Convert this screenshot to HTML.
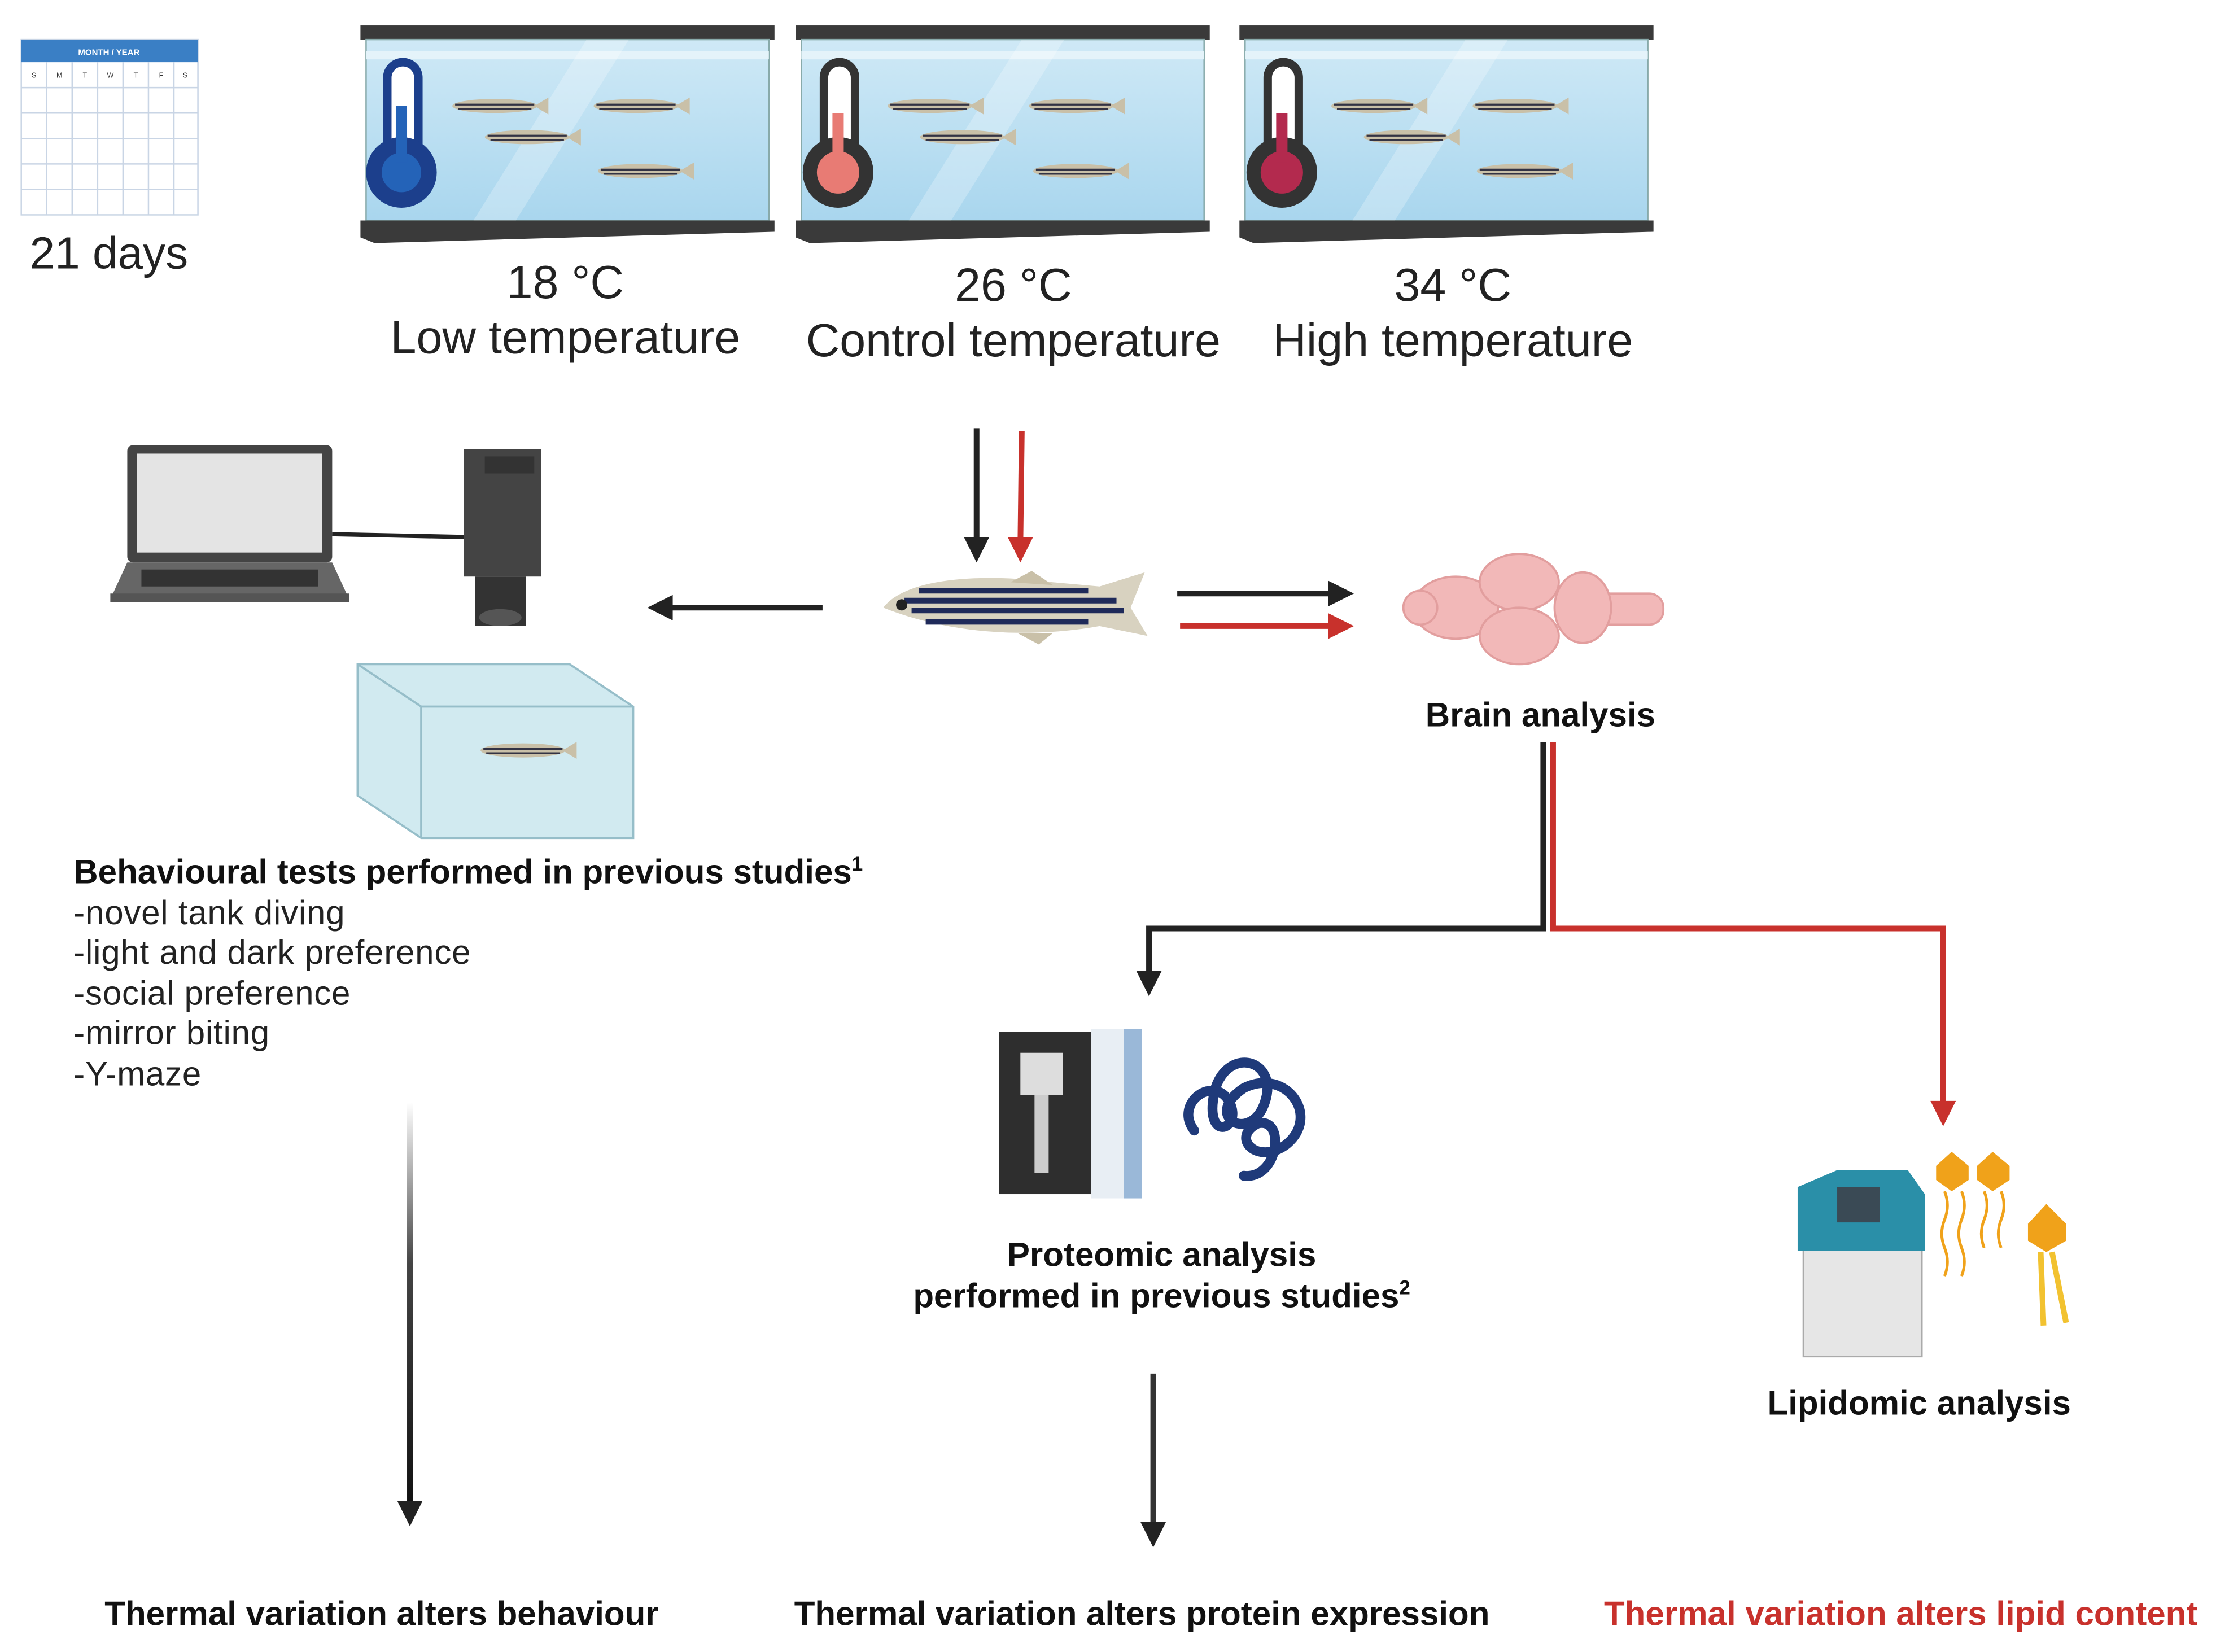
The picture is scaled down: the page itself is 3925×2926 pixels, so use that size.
<!DOCTYPE html>
<html><head><meta charset="utf-8"><style>
html,body{margin:0;padding:0;background:#fff;}
svg{display:block;}
text{font-family:"Liberation Sans",sans-serif;}
</style></head><body>
<svg width="3925" height="2926" viewBox="0 0 1568 1169" xmlns="http://www.w3.org/2000/svg">
<defs>
<linearGradient id="gw" x1="0" y1="0" x2="0" y2="1"><stop offset="0" stop-color="#cfe9f6"/><stop offset="1" stop-color="#a9d6ee"/></linearGradient>
<linearGradient id="gar" x1="0" y1="0" x2="0" y2="1"><stop offset="0" stop-color="#fff"/><stop offset="0.4" stop-color="#444"/><stop offset="1" stop-color="#111"/></linearGradient>
<g id="tfish"><ellipse cx="0" cy="0" rx="30" ry="5" fill="#c9c0a8"/><path d="M-28,-1 H28 M-26,2 H26" stroke="#334" stroke-width="1.3"/><path d="M28,0 l10,-6 v12z" fill="#c9c0a8"/></g>
<g id="tank">
<rect x="0" y="0" width="293" height="10" fill="#3a3a3a"/>
<rect x="4" y="10" width="285" height="128" fill="url(#gw)" stroke="#8aa" stroke-width="1"/>
<rect x="4" y="18" width="285" height="6" fill="#e4f3fa"/>
<polygon points="80,138 160,10 190,10 110,138" fill="#fff" opacity="0.25"/>
<polygon points="0,138 293,138 293,146 10,154 0,150" fill="#3a3a3a"/>
<use href="#tfish" x="95" y="57"/><use href="#tfish" x="195" y="57"/><use href="#tfish" x="118" y="79"/><use href="#tfish" x="198" y="103"/>
</g>
</defs>
<rect x="15" y="28" width="125" height="124" fill="#fff" stroke="#c9d5e5"/>
<rect x="15" y="28" width="125" height="16" fill="#3a7fc5"/>
<text x="77" y="39" font-size="6" fill="#fff" text-anchor="middle" font-weight="bold">MONTH / YEAR</text>
<g stroke="#c9d5e5" stroke-width="1">
<path d="M33,44V152 M51,44V152 M69,44V152 M87,44V152 M105,44V152 M123,44V152 M15,62H140 M15,80H140 M15,98H140 M15,116H140 M15,134H140"/></g>
<g font-size="5" fill="#333" text-anchor="middle"><text x="24" y="55">S</text><text x="42" y="55">M</text><text x="60" y="55">T</text><text x="78" y="55">W</text><text x="96" y="55">T</text><text x="114" y="55">F</text><text x="131" y="55">S</text></g>
<text x="77" y="190" font-size="32" text-anchor="middle" fill="#222">21 days</text>
<use href="#tank" x="255" y="18"/><use href="#tank" x="563" y="18"/><use href="#tank" x="877" y="18"/>
<g><rect x="274" y="44" width="22" height="76" rx="11" fill="#fff" stroke="#1c3f8c" stroke-width="6"/><circle cx="284" cy="122" r="25" fill="#1c3f8c"/><circle cx="284" cy="122" r="14" fill="#2463b8"/><rect x="280" y="75" width="8" height="40" fill="#2463b8"/></g>
<g><rect x="583" y="44" width="22" height="76" rx="11" fill="#fff" stroke="#333" stroke-width="6"/><circle cx="593" cy="122" r="25" fill="#333"/><circle cx="593" cy="122" r="15" fill="#e87b74"/><rect x="589" y="80" width="8" height="35" fill="#e87b74"/></g>
<g><rect x="897" y="44" width="22" height="76" rx="11" fill="#fff" stroke="#333" stroke-width="6"/><circle cx="907" cy="122" r="25" fill="#333"/><circle cx="907" cy="122" r="15" fill="#b32a4e"/><rect x="903" y="80" width="8" height="35" fill="#b32a4e"/></g>
<g font-size="33" text-anchor="middle" fill="#222">
<text x="400" y="211">18 °C</text><text x="400" y="250">Low temperature</text>
<text x="717" y="213">26 °C</text><text x="717" y="252">Control temperature</text>
<text x="1028" y="213">34 °C</text><text x="1028" y="252">High temperature</text></g>
<line x1="691" y1="303" x2="691" y2="385" stroke="#222" stroke-width="4"/><path d="M682,380 L700,380 L691,398z" fill="#222"/>
<line x1="723" y1="305" x2="722" y2="385" stroke="#c8312c" stroke-width="4"/><path d="M713,380 L731,380 L722,398z" fill="#c8312c"/>
<g><path d="M625,430 C640,410 690,405 745,412 L778,415 L810,405 L800,430 L812,450 L778,443 C740,450 680,452 625,430z" fill="#d8d2c0"/>
<path d="M650,418 H770 M640,425 H790 M645,432 H795 M655,440 H770" stroke="#1f2a5a" stroke-width="4"/>
<path d="M715,412 l15,-8 l15,10z M720,448 l15,8 l10,-8z" fill="#c9c0a8"/>
<circle cx="638" cy="428" r="4" fill="#222"/></g>
<line x1="582" y1="430" x2="472" y2="430" stroke="#222" stroke-width="4"/><path d="M476,421 L476,439 L458,430z" fill="#222"/>
<line x1="833" y1="420" x2="945" y2="420" stroke="#222" stroke-width="4"/><path d="M940,411 L940,429 L958,420z" fill="#222"/>
<line x1="835" y1="443" x2="945" y2="443" stroke="#c8312c" stroke-width="4"/><path d="M940,434 L940,452 L958,443z" fill="#c8312c"/>
<g fill="#f2b8b8" stroke="#e29e9e" stroke-width="1.5">
<rect x="1120" y="420" width="57" height="22" rx="10"/>
<ellipse cx="1030" cy="430" rx="30" ry="22"/>
<ellipse cx="1075" cy="412" rx="28" ry="20"/><ellipse cx="1075" cy="450" rx="28" ry="20"/>
<ellipse cx="1120" cy="430" rx="20" ry="25"/>
<ellipse cx="1005" cy="430" rx="12" ry="12"/></g>
<text x="1090" y="514" font-size="24" font-weight="bold" text-anchor="middle" fill="#111">Brain analysis</text>
<path d="M1092,525 V657 H813 V690" fill="none" stroke="#222" stroke-width="4"/><path d="M804,687 L822,687 L813,705z" fill="#222"/>
<path d="M1099,525 V657 H1375 V782" fill="none" stroke="#c8312c" stroke-width="4"/><path d="M1366,779 L1384,779 L1375,797z" fill="#c8312c"/>
<rect x="90" y="315" width="145" height="83" rx="4" fill="#444"/><rect x="97" y="321" width="131" height="70" fill="#e4e4e4"/>
<path d="M78,424 L90,398 H235 L247,424z" fill="#666"/><rect x="78" y="420" width="169" height="6" fill="#555"/>
<rect x="100" y="403" width="125" height="12" fill="#333"/>
<line x1="235" y1="378" x2="330" y2="380" stroke="#222" stroke-width="3"/>
<rect x="328" y="318" width="55" height="90" fill="#444"/><rect x="343" y="323" width="35" height="12" fill="#333"/>
<rect x="336" y="408" width="36" height="35" fill="#333"/><ellipse cx="354" cy="437" rx="15" ry="6" fill="#555"/>
<g fill="#cde8ef" stroke="#8bb7c4" stroke-width="1.5" opacity="0.9">
<polygon points="253,470 403,470 448,500 448,593 298,593 253,563"/>
<path d="M253,470 L298,500 H448 M298,500 V593" fill="none"/></g>
<use href="#tfish" x="370" y="531"/>
<text x="52" y="625" font-size="24" font-weight="bold" fill="#111">Behavioural tests performed in previous studies<tspan font-size="14" dy="-9">1</tspan></text>
<g font-size="24" fill="#222" letter-spacing="0.3">
<text x="52" y="654">-novel tank diving</text><text x="52" y="682">-light and dark preference</text>
<text x="52" y="711">-social preference</text><text x="52" y="739">-mirror biting</text><text x="52" y="768">-Y-maze</text></g>
<rect x="288" y="780" width="4" height="285" fill="url(#gar)"/><path d="M281,1062 L299,1062 L290,1080z" fill="#222"/>
<rect x="707" y="730" width="65" height="115" fill="#2e2e2e"/><rect x="772" y="728" width="36" height="120" fill="#e8eef4"/>
<rect x="795" y="728" width="13" height="120" fill="#9ab8d8"/>
<rect x="722" y="745" width="30" height="30" fill="#ddd"/><rect x="732" y="775" width="10" height="55" fill="#ccc"/>
<path d="M845,800 C830,780 860,760 870,780 C880,800 850,810 860,770 C870,740 905,750 895,780 C885,810 850,790 880,770 C910,755 935,790 910,810 C890,825 870,805 890,795 C910,790 905,835 880,832" fill="none" stroke="#1f3a7a" stroke-width="7" stroke-linecap="round"/>
<text x="822" y="896" font-size="24" font-weight="bold" text-anchor="middle" fill="#111">Proteomic analysis</text>
<text x="822" y="925" font-size="24" font-weight="bold" text-anchor="middle" fill="#111">performed in previous studies<tspan font-size="14" dy="-9">2</tspan></text>
<line x1="816" y1="972" x2="816" y2="1080" stroke="#333" stroke-width="4"/><path d="M807,1077 L825,1077 L816,1095z" fill="#222"/>
<rect x="1276" y="880" width="84" height="80" fill="#e6e6e6" stroke="#aaa"/>
<path d="M1272,840 L1300,828 H1350 L1362,845 V885 H1272z" fill="#2a8fa8"/><rect x="1300" y="840" width="30" height="25" fill="#3a4a55"/>
<g fill="#f0a21a"><polygon points="1370,825 1381,815 1393,825 1393,835 1381,843 1370,835"/><polygon points="1399,825 1410,815 1422,825 1422,835 1410,843 1399,835"/><polygon points="1435,866 1448,852 1462,866 1462,878 1448,886 1435,878"/></g>
<g fill="none" stroke="#f0a21a" stroke-width="2"><path d="M1376,843 q4,10 0,20 q-4,10 0,20 q4,10 0,20"/><path d="M1388,843 q4,10 0,20 q-4,10 0,20 q4,10 0,20"/><path d="M1404,843 q4,10 0,20 q-4,10 0,20"/><path d="M1416,843 q4,10 0,20 q-4,10 0,20"/></g>
<path d="M1444,886 L1446,938 M1452,886 L1462,936" stroke="#f2c230" stroke-width="4"/>
<text x="1358" y="1001" font-size="24" font-weight="bold" text-anchor="middle" fill="#111">Lipidomic analysis</text>
<g font-size="24" font-weight="bold" text-anchor="middle">
<text x="270" y="1150" fill="#111">Thermal variation alters behaviour</text>
<text x="808" y="1150" fill="#111">Thermal variation alters protein expression</text>
<text x="1345" y="1150" fill="#c8312c">Thermal variation alters lipid content</text></g>
</svg>
</body></html>
